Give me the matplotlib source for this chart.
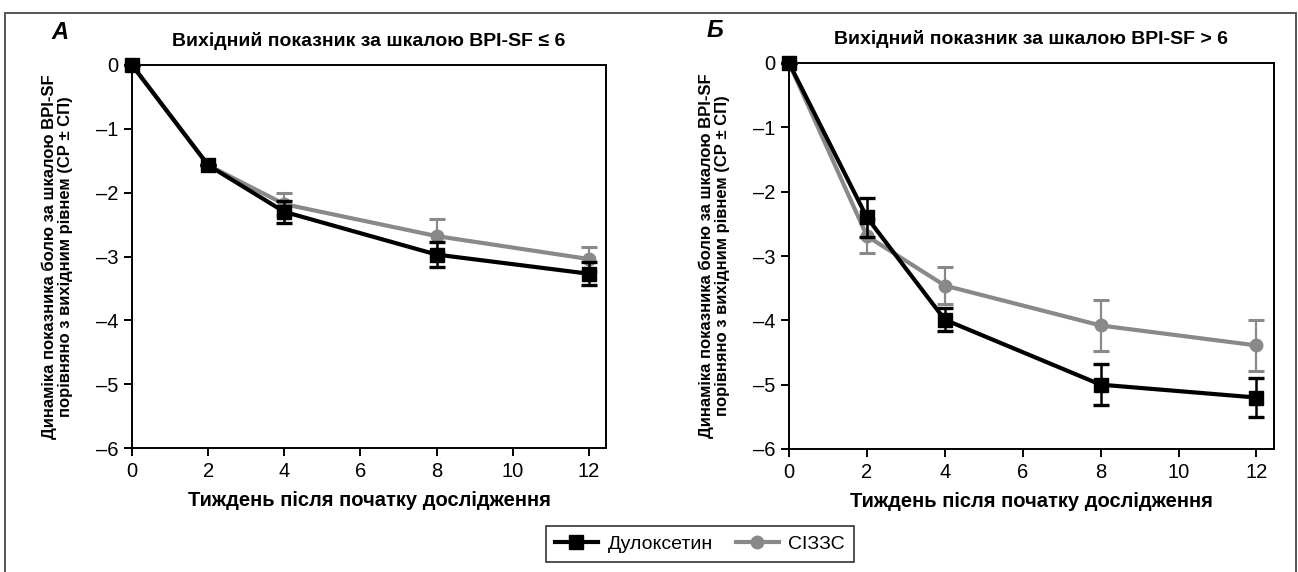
import matplotlib.pyplot as plt
from matplotlib.patches import Rectangle

# --- DATA ---
weeks = [0, 2, 4, 8, 12]

# Panel A: baseline BPI-SF <= 6
a_dulox = [0, -1.57, -2.3, -2.97, -3.27]
a_dulox_err = [0, 0, 0.17, 0.19, 0.18]
a_ssri = [0, -1.57, -2.18, -2.68, -3.04]
a_ssri_err = [0, 0, 0.17, 0.26, 0.19]

# Panel B: baseline BPI-SF > 6
b_dulox = [0, -2.4, -3.99, -5.0, -5.2]
b_dulox_err = [0, 0.3, 0.18, 0.32, 0.3]
b_ssri = [0, -2.69, -3.46, -4.08, -4.39]
b_ssri_err = [0, 0.26, 0.29, 0.4, 0.4]

xticks = [0, 2, 4, 6, 8, 10, 12]
yticks = [0, -1, -2, -3, -4, -5, -6]

titles = ['Вихідний показник за шкалою BPI-SF ≤ 6',
          'Вихідний показник за шкалою BPI-SF > 6']
letters = ['А', 'Б']
xlabel = 'Тиждень після початку дослідження'
ylabel = 'Динаміка показника болю за шкалою BPI-SF\nпорівняно з вихідним рівнем (СР ± СП)'
labels = ['Дулоксетин', 'СІЗЗС']

BLACK = '#000000'
GRAY = '#898989'

plt.rcParams['font.family'] = ['Liberation Sans', 'DejaVu Sans']

fig = plt.figure(figsize=(12.98, 5.72), dpi=100)

# outer frame
fig.patches.append(Rectangle((5 / 1298, -0.05), 1291 / 1298, 1 - 13 / 572 + 0.05,
                             transform=fig.transFigure, fill=False,
                             edgecolor='#555555', linewidth=1.4))

positions = [[132 / 1298, 1 - 448 / 572, 474 / 1298, 383 / 572],
             [789 / 1298, 1 - 449 / 572, 485 / 1298, 386 / 572]]
panels = [(a_dulox, a_dulox_err, a_ssri, a_ssri_err),
          (b_dulox, b_dulox_err, b_ssri, b_ssri_err)]

handles = []
for i, (pos, (d, de, s, se)) in enumerate(zip(positions, panels)):
    ax = fig.add_axes(pos)
    ax.set_xlim(0, 12.45)
    ax.set_ylim(-6, 0)

    hs = ax.errorbar(weeks, s, yerr=se, color=GRAY, ecolor=GRAY, elinewidth=1.6,
                     capsize=6, capthick=2.2, linewidth=3, marker='o',
                     markersize=9, clip_on=False, zorder=3)
    hd = ax.errorbar(weeks, d, yerr=de, color=BLACK, ecolor=BLACK, elinewidth=1.8,
                     capsize=6, capthick=2.4, linewidth=3, marker='s',
                     markersize=10, clip_on=False, zorder=4)
    if i == 0:
        handles = [hd.lines[0], hs.lines[0]]

    ax.set_xticks(xticks)
    ax.set_yticks(yticks)
    ax.set_xticklabels([str(t) for t in xticks], fontsize=14.5)
    ax.set_yticklabels([str(t).replace('-', '\u2013') for t in yticks], fontsize=14.5)
    ax.tick_params(direction='out', length=6, width=1.4, pad=4)
    for side in ['left', 'bottom', 'right', 'top']:
        ax.spines[side].set_linewidth(1.4)

    ax.set_xlabel(xlabel, fontsize=14.5, fontweight='bold', labelpad=7)
    ax.set_ylabel(ylabel, fontsize=12, fontweight='bold', labelpad=16,
                  linespacing=1.1)
    ax.set_title(titles[i], fontsize=14, fontweight='bold', pad=14)
    ax.text(-0.17, 1.084, letters[i], transform=ax.transAxes, fontsize=17,
            fontweight='bold', style='italic', va='center', ha='left')

leg = fig.legend(handles, labels, loc='center', bbox_to_anchor=(700 / 1298, 1 - 544 / 572),
                 ncol=2, fontsize=14, frameon=True, fancybox=False,
                 edgecolor='#000000', handlelength=2.2, columnspacing=1.2,
                 handletextpad=0.5, borderpad=0.45)
leg.get_frame().set_linewidth(1.2)

fig.savefig('out.png', dpi=100)
